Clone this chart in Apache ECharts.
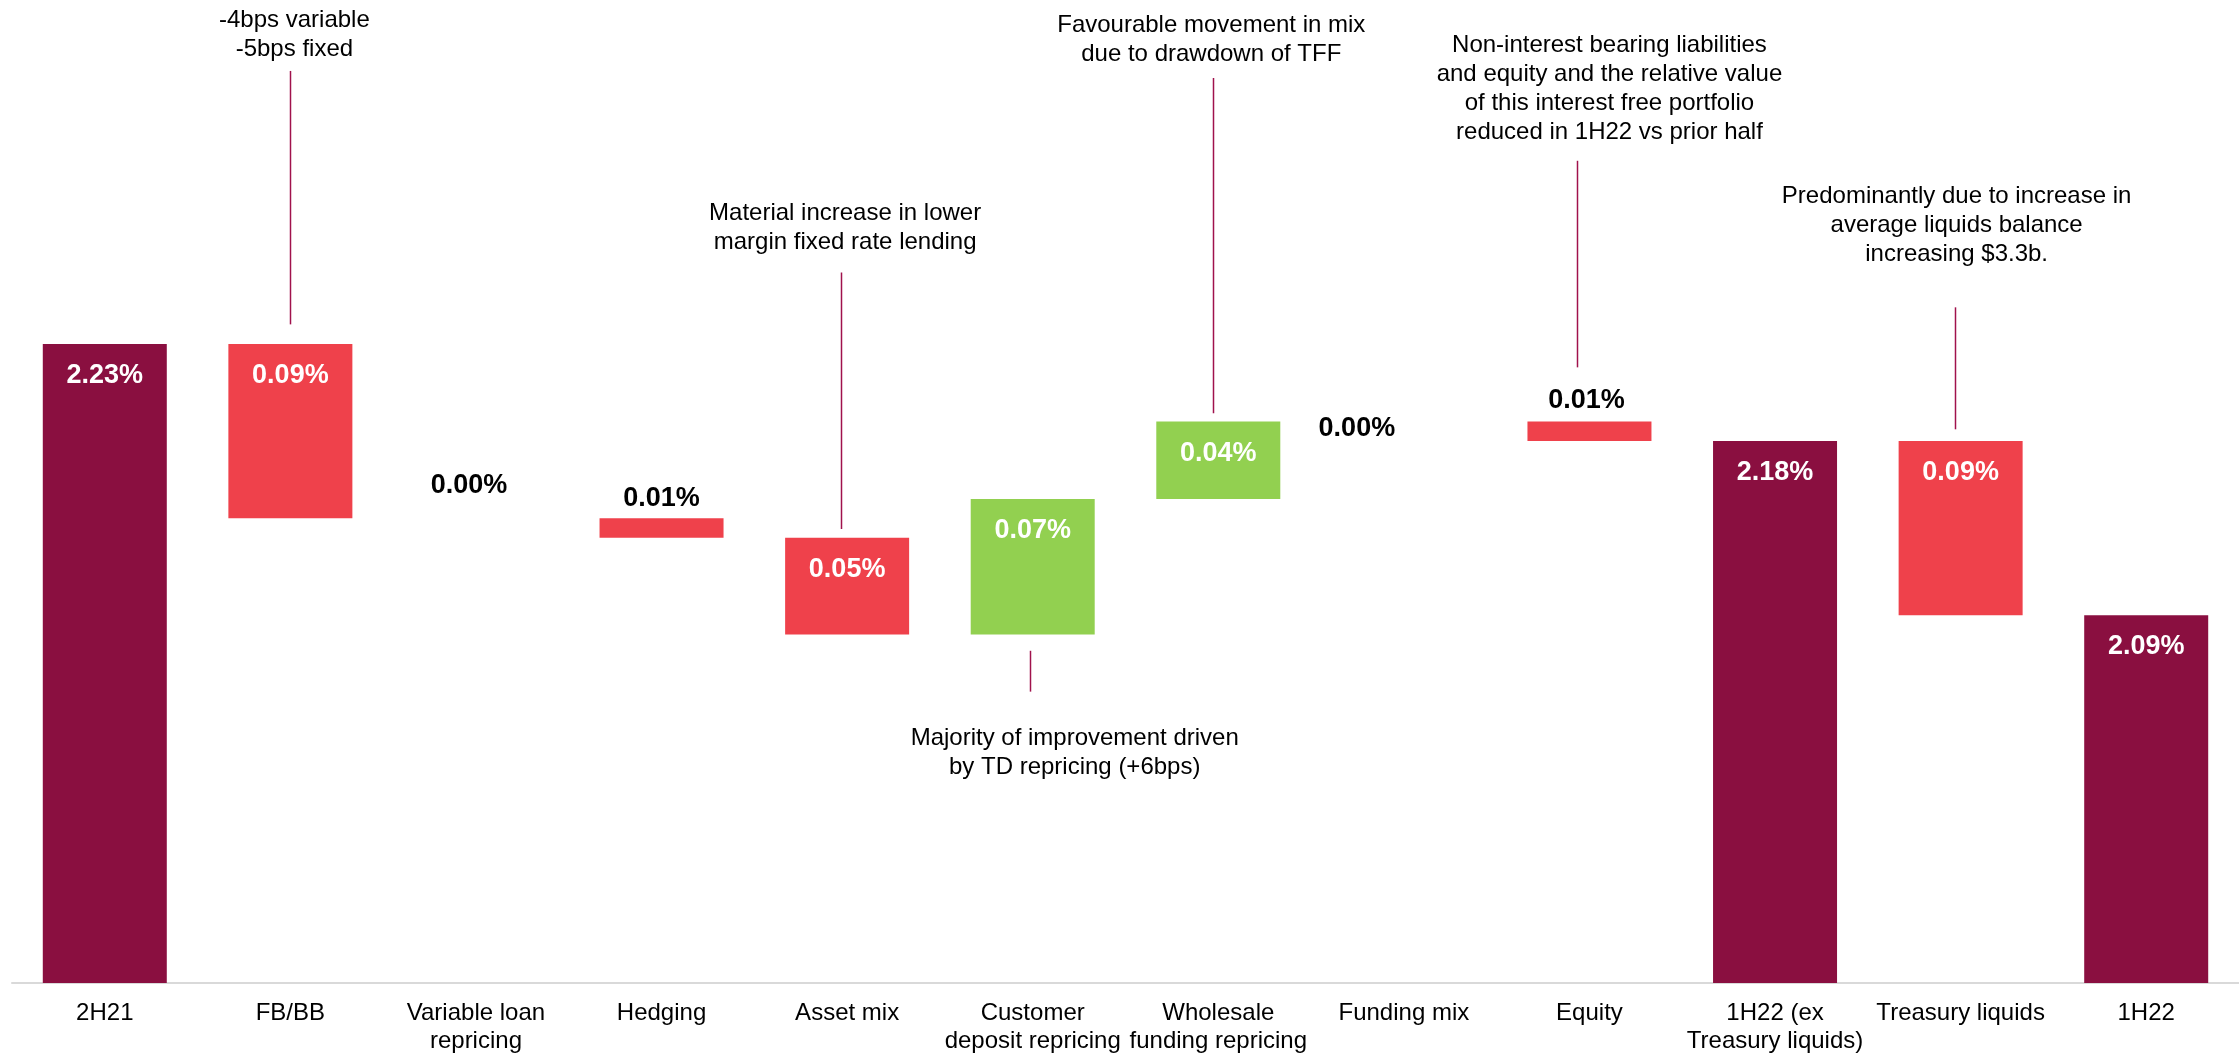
<!DOCTYPE html>
<html>
<head>
<meta charset="utf-8">
<script src="https://cdn.jsdelivr.net/npm/echarts@6/dist/echarts.min.js"></script>
<style>
html,body{margin:0;padding:0;background:#fff;}
#chart{width:2239px;height:1055px;}
</style>
</head>
<body>
<div id="chart"></div>
<script>
// ---- data ----
const categories = ['2H21', 'FB/BB', 'Variable loan\nrepricing', 'Hedging', 'Asset mix',
  'Customer\ndeposit repricing', 'Wholesale\nfunding repricing', 'Funding mix', 'Equity',
  '1H22 (ex\nTreasury liquids)', 'Treasury liquids', '1H22'];
const changes = [2.23, -0.09, 0.00, -0.01, -0.05, 0.07, 0.04, 0.00, -0.01, 2.18, -0.09, 2.09];
const isTotal = [true, false, false, false, false, false, false, false, false, true, false, true];

const noteCategories = [1, 4, 5, 6, 8, 10];
const noteTexts = [
  '-4bps variable\n-5bps fixed',
  'Material increase in lower\nmargin fixed rate lending',
  'Majority of improvement driven\nby TD repricing (+6bps)',
  'Favourable movement in mix\ndue to drawdown of TFF',
  'Non-interest bearing liabilities\nand equity and the relative value\nof this interest free portfolio\nreduced in 1H22 vs prior half',
  'Predominantly due to increase in\naverage liquids balance\nincreasing $3.3b.'
];

// ---- layout (positions / styles only) ----
const COLORS = { total: '#8A0F40', down: '#EF414B', up: '#92D050' };
const FONT = '"Liberation Sans", Arial, sans-serif';
// annotation placement in value units: [textCenter, lineTop, lineBottom, textDx, lineDx]
const noteLayout = [
  [2.3897, 2.3711, 2.2402, 4, 0],
  [2.2900, 2.2670, 2.1345, -2, -6],
  [2.0190, 2.0716, 2.0505, 42, -3],
  [2.3870, 2.3675, 2.1943, -7, -5],
  [2.3619, 2.3247, 2.2180, 20, -12],
  [2.2912, 2.2490, 2.1860, -4, -6]
];
// per-category label tweaks for small / zero bars
const outsideLabel = { 2: [-7, -13], 3: [0, 0], 7: [-47, 26], 8: [-3, -2] };

// ---- build waterfall ----
const base = [], height = [], colors = [];
let run = 0;
changes.forEach((c, i) => {
  if (isTotal[i]) {
    base.push(0); height.push(c); run = c; colors.push(COLORS.total);
  } else if (c >= 0) {
    base.push(+run.toFixed(4)); height.push(c); run += c; colors.push(COLORS.up);
  } else {
    run += c; base.push(+run.toFixed(4)); height.push(-c); colors.push(COLORS.down);
  }
});

const barData = height.map((h, i) => {
  const item = { value: h, itemStyle: { color: colors[i] } };
  if (outsideLabel[i]) {
    item.label = {
      position: 'top', distance: 6, color: '#000',
      offset: outsideLabel[i]
    };
  }
  return item;
});

const noteData = noteCategories.map((c, k) => [c, noteLayout[k][0], k]);

const chart = echarts.init(document.getElementById('chart'));
chart.setOption({
  animation: false,
  backgroundColor: '#fff',
  grid: { left: 12, width: 2230, top: 15, bottom: 70, containLabel: false },
  xAxis: {
    type: 'category',
    data: categories,
    axisLine: { lineStyle: { color: '#D9D9D9', width: 2 } },
    axisTick: { show: false },
    axisLabel: {
      color: '#000', fontSize: 24, fontFamily: FONT, lineHeight: 28, margin: 16,
      interval: 0
    }
  },
  yAxis: {
    type: 'value', min: 1.9, max: 2.4, show: false,
    splitLine: { show: false }
  },
  series: [
    {
      type: 'bar', stack: 'w', data: base, barWidth: 124,
      itemStyle: { color: 'transparent' }, silent: true
    },
    {
      type: 'bar', stack: 'w', data: barData, barWidth: 124,
      label: {
        show: true, position: 'insideTop', distance: 18,
        color: '#fff', fontSize: 27, fontWeight: 'bold', fontFamily: FONT,
        formatter: p => Math.abs(changes[p.dataIndex]).toFixed(2) + '%'
      }
    },
    {
      type: 'custom', clip: false, silent: true,
      data: noteData,
      encode: { x: 0, y: 1 },
      renderItem: (params, api) => {
        const k = api.value(2);
        const cat = api.value(0);
        const L = noteLayout[k];
        const pText = api.coord([cat, L[0]]);
        const pTop = api.coord([cat, L[1]]);
        const pBot = api.coord([cat, L[2]]);
        const lx = Math.round(pTop[0] + L[4]) + 0.5;
        return {
          type: 'group',
          children: [
            {
              type: 'line',
              shape: { x1: lx, y1: pTop[1], x2: lx, y2: pBot[1] },
              style: { stroke: '#A0124C', lineWidth: 1.5 }
            },
            {
              type: 'text',
              x: pText[0] + L[3], y: pText[1],
              style: {
                text: noteTexts[k], fill: '#000',
                font: '24px ' + FONT, lineHeight: 29,
                align: 'center', verticalAlign: 'middle'
              }
            }
          ]
        };
      }
    }
  ]
});
</script>
</body>
</html>
